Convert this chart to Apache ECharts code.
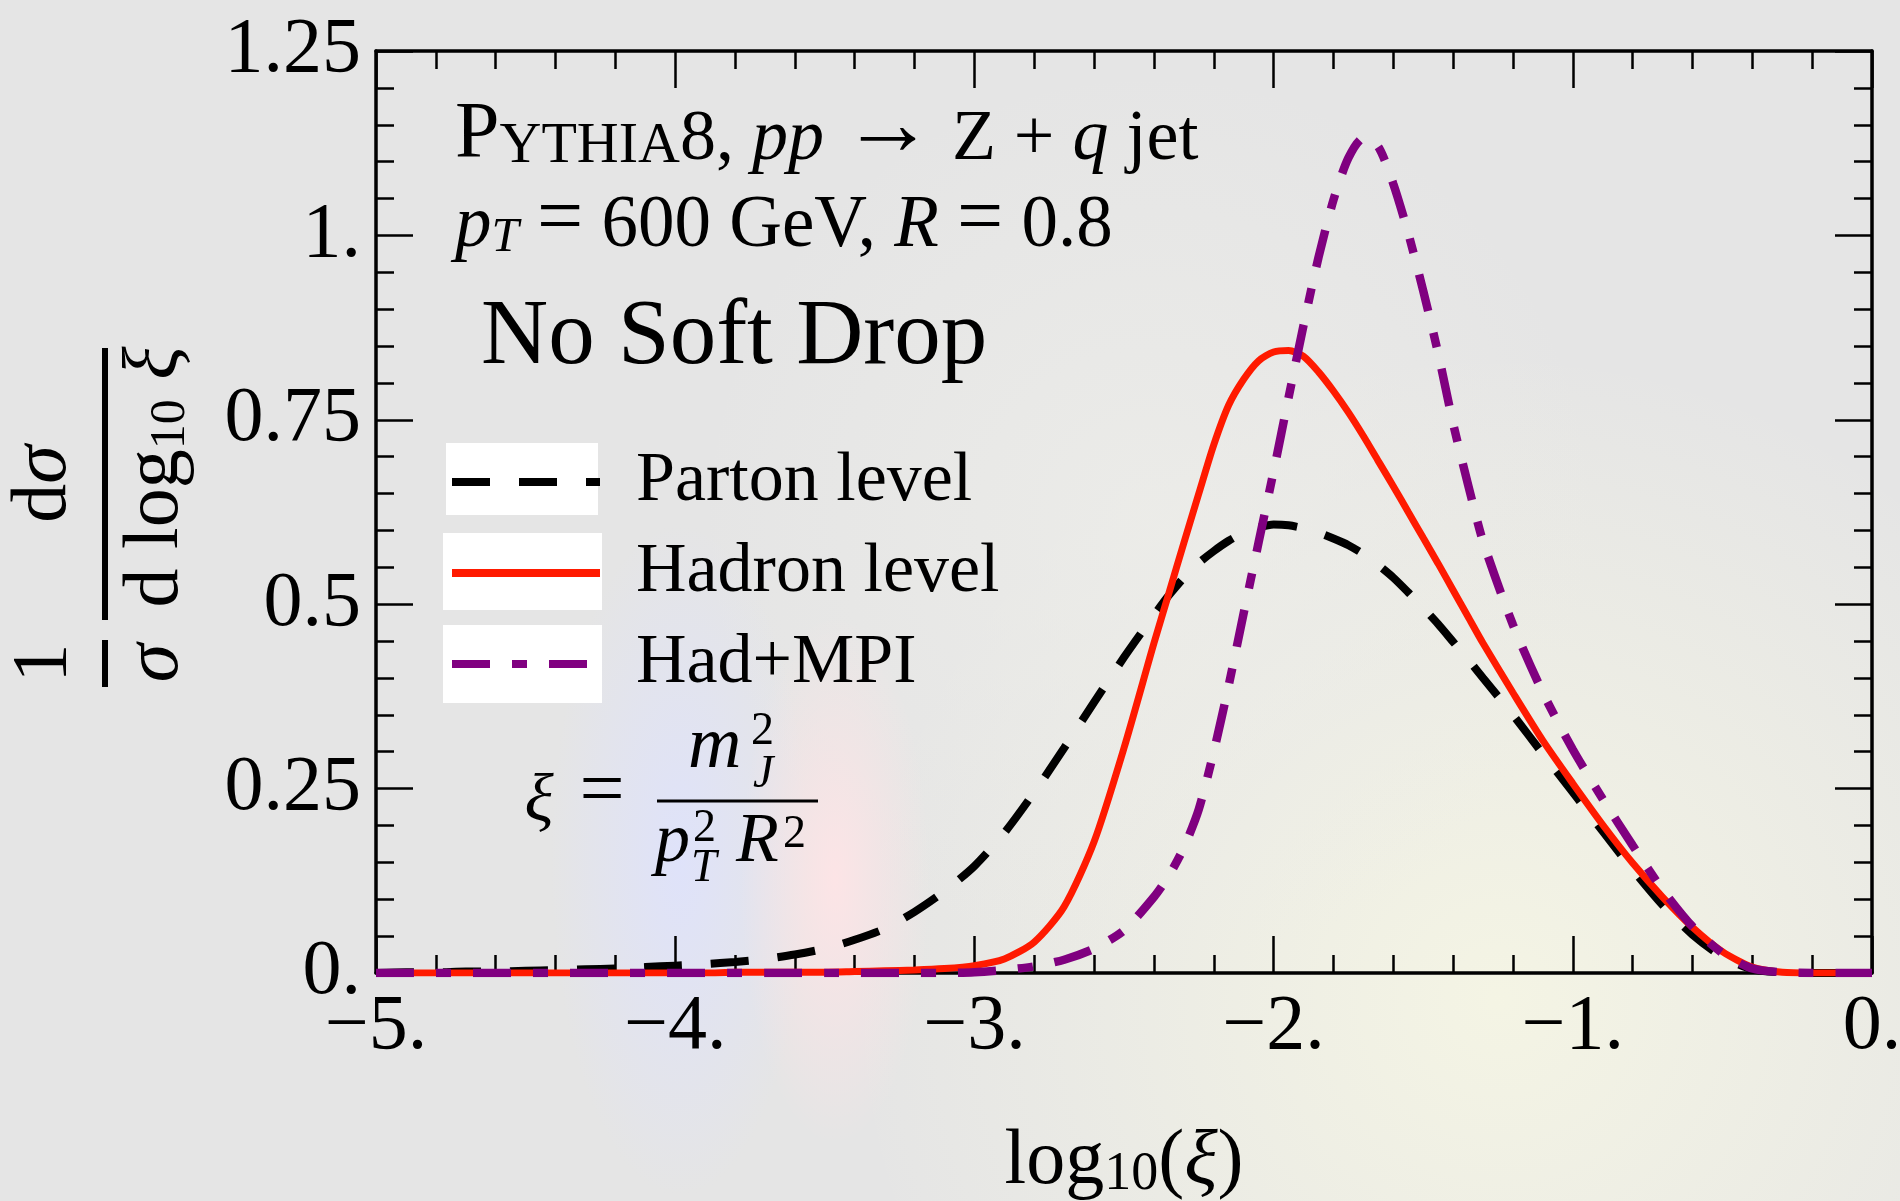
<!DOCTYPE html>
<html><head><meta charset="utf-8">
<script src="https://cdn.jsdelivr.net/npm/echarts@6/dist/echarts.min.js"></script>
<style>html,body{margin:0;padding:0;background:#e5e5e5}#c{width:1900px;height:1201px}</style>
</head><body><div id="c"></div>
<script>
// ---- data ----
const logXi = [-5.0,-4.9,-4.8,-4.7,-4.6,-4.5,-4.4,-4.3,-4.2,-4.1,
  -4.0,-3.9,-3.8,-3.7,-3.6,-3.5,-3.4,-3.3,-3.2,-3.1,
  -3.0,-2.9,-2.8,-2.7,-2.6,-2.5,-2.4,
  -2.35,-2.3,-2.25,-2.2,-2.15,-2.1,-2.05,-2.0,-1.95,-1.9,-1.85,-1.8,-1.75,-1.7,-1.65,-1.6,-1.55,-1.5,-1.45,-1.4,-1.35,-1.3,
  -1.2,-1.1,-1.0,-0.9,-0.8,-0.7,-0.6,-0.5,-0.4,-0.3,-0.2,-0.1,0.0];
const parton = [0.000,0.001,0.001,0.002,0.002,0.003,0.004,0.005,0.006,0.008,
  0.010,0.012,0.015,0.019,0.025,0.033,0.045,0.060,0.083,0.111,
  0.145,0.190,0.245,0.305,0.367,0.428,0.485,
  0.512,0.536,0.556,0.572,0.586,0.597,0.604,0.608,0.607,0.603,0.597,0.589,0.580,0.568,0.553,0.536,0.516,0.495,0.473,0.449,0.425,0.400,
  0.350,0.297,0.245,0.192,0.140,0.092,0.052,0.022,0.005,0.001,0,0,0];
const hadron = [0,0,0,0,0,0,0,0,0,0,
  0,0,0.001,0.001,0.001,0.001,0.002,0.003,0.004,0.006,
  0.010,0.019,0.042,0.090,0.178,0.305,0.447,
  0.515,0.583,0.650,0.716,0.770,0.805,0.830,0.842,0.844,0.836,0.815,0.789,0.760,0.728,0.694,0.660,0.625,0.590,0.555,0.519,0.483,0.447,
  0.380,0.315,0.257,0.201,0.149,0.103,0.062,0.029,0.008,0.001,0,0,0];
const hadMpi = [0,0,0,0,0,0,0,0,0,0,
  0,0,0,0,0,0,0,0,0,0,
  0.001,0.004,0.009,0.018,0.033,0.058,0.103,
  0.132,0.170,0.222,0.300,0.390,0.488,0.584,0.680,0.780,0.878,0.970,1.048,1.105,1.132,1.120,1.070,1.003,0.925,0.840,0.745,0.662,0.585,
  0.472,0.380,0.303,0.236,0.173,0.113,0.063,0.027,0.006,0.001,0,0,0];
const seriesNames = ['Parton level', 'Hadron level', 'Had+MPI'];
const xTickLabels = ['\u22125.', '\u22124.', '\u22123.', '\u22122.', '\u22121.', '0.'];
const yTickLabels = ['0.', '0.25', '0.5', '0.75', '1.', '1.25'];
const X_MIN = -5, X_MAX = 0, X_STEP = 1;
const Y_MIN = 0, Y_MAX = 1.25, Y_STEP = 0.25;

// ---- styling ----
const FONT = '"Liberation Serif", "Times New Roman", serif';
const BLACK = '#000000', RED = '#ff1a00', PURPLE = '#800080';

function pairs(ys) { return logXi.map((x, i) => [x, ys[i]]); }

function xAxisCfg(pos, labels) {
  return {
    type: 'value', position: pos, min: X_MIN, max: X_MAX, interval: X_STEP,
    axisLine: { show: true, onZero: false, lineStyle: { color: BLACK, width: 3.5 } },
    axisTick: { show: true, inside: true, length: 37, lineStyle: { color: BLACK, width: 2.5 } },
    minorTick: { show: true, splitNumber: 5, length: 18, lineStyle: { color: BLACK, width: 2.5 } },
    splitLine: { show: false }, minorSplitLine: { show: false },
    axisLabel: {
      show: labels, margin: 16, color: BLACK, fontFamily: FONT, fontSize: 78,
      formatter: v => xTickLabels[Math.round((v - X_MIN) / X_STEP)]
    }
  };
}
function yAxisCfg(pos, labels) {
  return {
    type: 'value', position: pos, min: Y_MIN, max: Y_MAX, interval: Y_STEP,
    axisLine: { show: true, onZero: false, lineStyle: { color: BLACK, width: 3.5 } },
    axisTick: { show: true, inside: true, length: 37, lineStyle: { color: BLACK, width: 2.5 } },
    minorTick: { show: true, splitNumber: 5, length: 18, lineStyle: { color: BLACK, width: 2.5 } },
    splitLine: { show: false }, minorSplitLine: { show: false },
    axisLabel: {
      show: labels, margin: 15, color: BLACK, fontFamily: FONT, fontSize: 78, padding: [0, 0, 12, 0],
      formatter: v => yTickLabels[Math.round((v - Y_MIN) / Y_STEP)]
    }
  };
}

// rich token whose baseline sits `drop` px below the common baseline; K = lineBottom - baseline
function tok(K, fs, drop, italic) {
  return { fontFamily: FONT, fontSize: fs, fontStyle: italic ? 'italic' : 'normal', color: BLACK,
    verticalAlign: 'bottom', lineHeight: 2 * (K - drop + 0.3375 * fs) };
}
function txt(x, y, text, size, style, el) {
  return Object.assign({ type: 'text', x: x, y: y, silent: true, z: 20,
    style: Object.assign({ text: text, fill: BLACK, fontFamily: FONT, fontSize: size,
      align: 'left', verticalAlign: 'middle' }, style || {}) }, el || {});
}
function blob(cx, cy, r, sy, color) {
  return { type: 'rect', silent: true, z: -5, x: cx, y: cy, scaleY: sy,
    shape: { x: -r, y: -r, width: 2 * r, height: 2 * r },
    style: { fill: { type: 'radial', x: 0.5, y: 0.5, r: 0.5,
      colorStops: [{ offset: 0, color: color }, { offset: 1, color: color.replace(/[\d.]+\)$/, '0)') }] } } };
}

// title line 1: baseline 160
const K1 = 16, H1 = 2 * (K1 + 0.3375 * 80);
const rich1 = { P: tok(K1, 80, 0, false), c: tok(K1, 58, 0, false), n: tok(K1, 72, 0, false),
  i: tok(K1, 72, 0, true), a: tok(K1, 92, 13, false) };
// title line 2: baseline 240
const K2 = 16, H2 = 2 * (K2 + 0.3375 * 82 - 10);
const rich2 = { n: tok(K2, 73, 0, false), i: tok(K2, 73, 0, true), s: tok(K2, 49, 6, true), e: tok(K2, 82, 10, false) };

const chart = echarts.init(document.getElementById('c'), null, { renderer: 'canvas' });
chart.setOption({
  animation: false,
  backgroundColor: '#e5e5e5',
  grid: { left: 376, right: 28, top: 51, bottom: 228, containLabel: false, outerBoundsMode: 'none' },
  xAxis: [
    Object.assign(xAxisCfg('bottom', true), {
      name: '{a|log}{s|10}{a|(}{i|\u03be}{a|)}', nameLocation: 'middle', nameGap: 129,
      nameTextStyle: { color: BLACK, fontFamily: FONT, fontSize: 78,
        rich: {
          a: { fontFamily: FONT, fontSize: 78, lineHeight: 100, verticalAlign: 'bottom', color: BLACK },
          i: { fontFamily: FONT, fontSize: 78, fontStyle: 'italic', lineHeight: 100, verticalAlign: 'bottom', color: BLACK },
          s: { fontFamily: FONT, fontSize: 54, lineHeight: 42, verticalAlign: 'bottom', color: BLACK }
        } }
    }),
    xAxisCfg('top', false)
  ],
  yAxis: [yAxisCfg('left', true), yAxisCfg('right', false)],
  legend: {
    orient: 'vertical', left: 448, top: 437, padding: 0, itemGap: 1,
    itemWidth: 148, itemHeight: 90, selectedMode: false, z: 10,
    data: seriesNames,
    itemStyle: { opacity: 0 },
    lineStyle: { width: 8 },
    textStyle: { fontFamily: FONT, fontSize: 70, color: BLACK, lineHeight: 70, padding: [0, 0, 20, 31] }
  },
  series: [
    { name: seriesNames[0], type: 'line', data: pairs(parton), symbol: 'none', showSymbol: false,
      smooth: 0.25, z: 2,
      lineStyle: { color: BLACK, width: 8, type: [38, 29], cap: 'butt' }, itemStyle: { color: BLACK } },
    { name: seriesNames[1], type: 'line', data: pairs(hadron), symbol: 'none', showSymbol: false,
      smooth: 0.25, z: 3,
      lineStyle: { color: RED, width: 7, type: 'solid' }, itemStyle: { color: RED } },
    { name: seriesNames[2], type: 'line', data: pairs(hadMpi), symbol: 'none', showSymbol: false,
      smooth: 0.25, z: 4,
      lineStyle: { color: PURPLE, width: 8.5, type: [38, 22, 15, 22], cap: 'butt' }, itemStyle: { color: PURPLE } }
  ],
  graphic: { elements: [
    // faint background tints
    blob(1500, 1000, 650, 1, 'rgba(245,245,228,0.95)'),
    blob(1150, 520, 450, 1, 'rgba(237,237,233,0.8)'),
    blob(680, 860, 130, 2.6, 'rgba(222,226,252,0.9)'),
    blob(835, 880, 95, 2.8, 'rgba(255,228,230,0.9)'),
    // white legend boxes
    { type: 'rect', silent: true, z: 5, shape: { x: 446, y: 443, width: 152, height: 72 }, style: { fill: '#ffffff' } },
    { type: 'rect', silent: true, z: 5, shape: { x: 443, y: 533, width: 159, height: 77 }, style: { fill: '#ffffff' } },
    { type: 'rect', silent: true, z: 5, shape: { x: 443, y: 625, width: 159, height: 78 }, style: { fill: '#ffffff' } },
    // annotation lines
    txt(455, 160 + K1 - H1 / 2,
      '{P|P}{c|YTHIA}{n|8, }{i|pp}{n| }{a|\u2192}{n| Z + }{i|q}{n| jet}', 72, { rich: rich1 }),
    txt(455, 240 + K2 - H2 / 2,
      '{i|p}{s|T}{n| }{e|=}{n| 600 GeV, }{i|R}{n| }{e|=}{n| 0.8}', 73, { rich: rich2 }),
    txt(481, 339, 'No Soft Drop', 93),
    // formula xi = m_J^2 / (p_T^2 R^2)
    txt(539, 803, '\u03be', 68, { fontStyle: 'italic', align: 'center' }),
    txt(602, 794, '=', 80, { align: 'center' }),
    { type: 'line', silent: true, z: 20, shape: { x1: 657, y1: 801, x2: 818, y2: 801 }, style: { stroke: BLACK, lineWidth: 3 } },
    txt(688, 748, 'm', 74, { fontStyle: 'italic' }),
    txt(751, 732, '2', 46),
    txt(753, 775, 'J', 46, { fontStyle: 'italic' }),
    txt(655, 843, 'p', 70, { fontStyle: 'italic' }),
    txt(693, 829, '2', 46),
    txt(691, 869, 'T', 46, { fontStyle: 'italic' }),
    txt(736, 843, 'R', 70, { fontStyle: 'italic' }),
    txt(783, 835, '2', 46),
    // rotated y-axis title: (1/sigma) dsigma / (d log10 xi)
    { type: 'group', x: 105, y: 484, rotation: Math.PI / 2, silent: true, z: 20, children: [
      { type: 'line', silent: true, z: 20, shape: { x1: -136, y1: 0, x2: 136, y2: 0 }, style: { stroke: BLACK, lineWidth: 6 } },
      { type: 'line', silent: true, z: 20, shape: { x1: -203, y1: 0, x2: -156, y2: 0 }, style: { stroke: BLACK, lineWidth: 6 } },
      txt(-179, -60.3, '1', 78, { align: 'center' }),
      txt(-179, 51.7, '\u03c3', 78, { align: 'center', fontStyle: 'italic' }),
      txt(0, -60.3, '{a|d}{i|\u03c3}', 78, { align: 'center', rich: {
        a: { fontFamily: FONT, fontSize: 78, color: BLACK },
        i: { fontFamily: FONT, fontSize: 78, fontStyle: 'italic', color: BLACK } } }),
      txt(7, 51.7, '{a|d log}{s|10}{a| }{i|\u03be}', 78, { align: 'center', rich: {
        a: { fontFamily: FONT, fontSize: 78, lineHeight: 78, verticalAlign: 'bottom', color: BLACK },
        i: { fontFamily: FONT, fontSize: 78, fontStyle: 'italic', lineHeight: 78, verticalAlign: 'bottom', color: BLACK },
        s: { fontFamily: FONT, fontSize: 50, lineHeight: 39, verticalAlign: 'bottom', color: BLACK } } })
    ] }
  ] }
});
</script>
</body></html>
